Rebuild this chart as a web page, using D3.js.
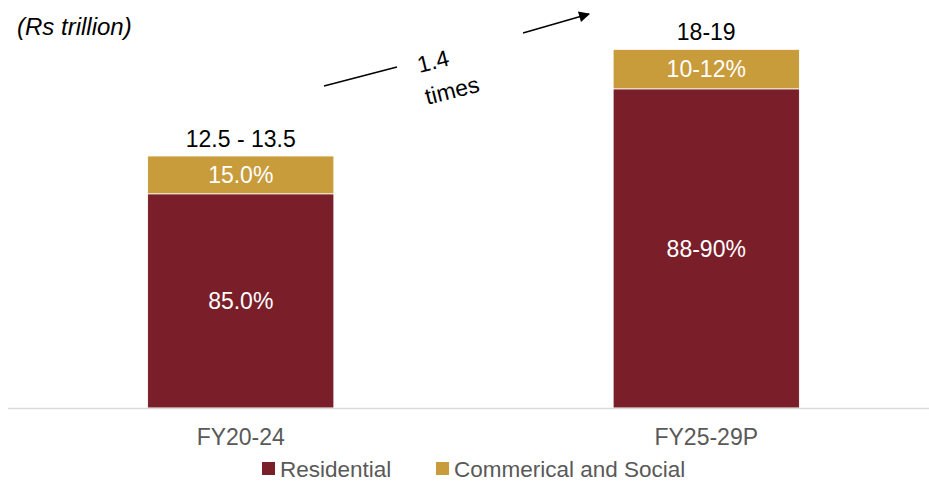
<!DOCTYPE html>
<html>
<head>
<meta charset="utf-8">
<script src="https://cdn.jsdelivr.net/npm/d3@7"></script>
<style>
  html, body { margin: 0; padding: 0; background: #fff; }
  svg { display: block; font-family: "Liberation Sans", Arial, sans-serif; }
</style>
</head>
<body>
<svg id="chart" width="929" height="483"></svg>
<script>
// Periods and investment totals (Rs trillion, midpoint of the stated range)
const periods = ["FY20-24", "FY25-29P"];
const totals = [13, 18.5];
const totalLabels = ["12.5 - 13.5", "18-19"];
// Share of each segment in the total
const residentialShare = [0.85, 0.89];
const commercialShare = [0.15, 0.11];
const residentialLabels = ["85.0%", "88-90%"];
const commercialLabels = ["15.0%", "10-12%"];
const seriesNames = ["Residential", "Commerical and Social"];
const growthLabel = ["1.4", "times"];

const colors = { Residential: "#7a1e2a", "Commerical and Social": "#c89b3b" };
const FS = 23;

const svg = d3.select("#chart");

const x = d3.scaleBand().domain(periods).range([8, 939]).paddingInner(0.6).paddingOuter(0.3);
const y = d3.scaleLinear().domain([0, 20]).range([408, 20.3]);

// Stack rows built from the arrays above
const rows = periods.map((p, i) => ({
  period: p,
  Residential: totals[i] * residentialShare[i],
  "Commerical and Social": totals[i] * commercialShare[i]
}));
const stack = d3.stack().keys(seriesNames)(rows);

const segLabels = { Residential: residentialLabels, "Commerical and Social": commercialLabels };

const layers = svg.append("g").selectAll("g").data(stack).join("g")
  .attr("fill", d => colors[d.key]);

layers.selectAll("rect").data(d => d.map((v, i) => ({ v, i, key: d.key }))).join("rect")
  .attr("x", d => x(periods[d.i]))
  .attr("width", x.bandwidth())
  .attr("y", d => y(d.v[1]))
  .attr("height", d => y(d.v[0]) - y(d.v[1]))
  .attr("stroke", "#fff")
  .attr("stroke-width", 0.8);

// Segment share labels
layers.selectAll("text").data(d => d.map((v, i) => ({ v, i, key: d.key }))).join("text")
  .attr("x", d => x(periods[d.i]) + x.bandwidth() / 2)
  .attr("y", d => (y(d.v[0]) + y(d.v[1])) / 2)
  .attr("dy", "0.36em")
  .attr("text-anchor", "middle")
  .attr("fill", "#fff")
  .attr("font-size", FS)
  .text(d => segLabels[d.key][d.i]);

// Total labels above bars
svg.append("g").selectAll("text").data(periods).join("text")
  .attr("x", p => x(p) + x.bandwidth() / 2)
  .attr("y", (p, i) => y(totals[i]) - 9)
  .attr("text-anchor", "middle")
  .attr("fill", "#000")
  .attr("font-size", FS)
  .text((p, i) => totalLabels[i]);

// Baseline and category axis
const xAxis = svg.append("g").attr("transform", `translate(0,${y(0)})`)
  .call(d3.axisBottom(x).tickSize(0).tickPadding(21));
xAxis.select(".domain").attr("stroke", "#d9d9d9").attr("stroke-width", 1.5)
  .attr("d", "M8,0.5H929");
xAxis.selectAll("text").attr("font-size", FS).attr("fill", "#595959")
  .attr("font-family", "Liberation Sans, Arial, sans-serif");

// Unit caption
svg.append("text")
  .attr("x", 17).attr("y", 35)
  .attr("font-size", 24).attr("font-style", "italic").attr("fill", "#000")
  .text("(Rs trillion)");

// Growth arrow between the two bars
svg.append("defs").append("marker")
  .attr("id", "arrowhead").attr("viewBox", "0 0 10 10")
  .attr("refX", 9).attr("refY", 5)
  .attr("markerWidth", 15).attr("markerHeight", 11)
  .attr("markerUnits", "userSpaceOnUse")
  .attr("orient", "auto")
  .append("path").attr("d", "M0,0L10,5L0,10Z").attr("fill", "#000");

svg.append("line")
  .attr("x1", 324).attr("y1", 86).attr("x2", 397).attr("y2", 67)
  .attr("stroke", "#000").attr("stroke-width", 1.5);
svg.append("line")
  .attr("x1", 523).attr("y1", 33).attr("x2", 589).attr("y2", 14)
  .attr("stroke", "#000").attr("stroke-width", 1.5)
  .attr("marker-end", "url(#arrowhead)");

svg.append("text")
  .attr("transform", "translate(433,61) rotate(-14)")
  .attr("text-anchor", "middle").attr("dy", "0.36em")
  .attr("font-size", FS).attr("fill", "#000")
  .text(growthLabel[0]);
svg.append("text")
  .attr("transform", "translate(452,90) rotate(-14)")
  .attr("text-anchor", "middle").attr("dy", "0.36em")
  .attr("font-size", FS).attr("fill", "#000")
  .text(growthLabel[1]);

// Legend
const legendX = [262, 436];
const legend = svg.append("g").selectAll("g").data(seriesNames).join("g")
  .attr("transform", (d, i) => `translate(${legendX[i]},462)`);
legend.append("rect").attr("width", 13).attr("height", 13).attr("fill", d => colors[d]);
legend.append("text").attr("x", 18).attr("y", 6.5).attr("dy", "0.36em")
  .attr("font-size", 22.5).attr("fill", "#595959").text(d => d);
</script>
</body>
</html>
